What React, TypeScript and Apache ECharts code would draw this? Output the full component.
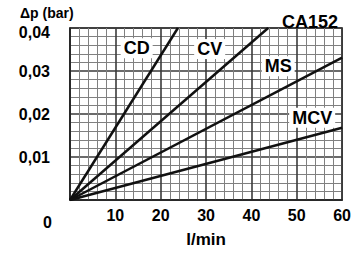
import React, { useEffect, useRef } from "react";
import * as echarts from "echarts";

const xTicks = [0, 10, 20, 30, 40, 50, 60];
const yTicks = [0, 0.01, 0.02, 0.03, 0.04];
const seriesNames = ["CD", "CV", "MS", "MCV"];
const cdLine = [[0, 0], [23.8, 0.04]];
const cvLine = [[0, 0], [43.7, 0.04]];
const msLine = [[0, 0], [60, 0.0331]];
const mcvLine = [[0, 0], [60, 0.0168]];
const labelPoints = [
  [14.7, 0.0353, "CD"],
  [30.8, 0.0351, "CV"],
  [45.9, 0.0311, "MS"],
  [53.4, 0.0191, "MCV"],
];
const title = "CA152";
const xName = "l/min";
const yName = "Δp (bar)";

const FONT = "'Liberation Sans', Arial, sans-serif";

export default function App() {
  const ref = useRef<HTMLDivElement>(null);
  useEffect(() => {
    document.body.style.margin = "0";
    const chart = echarts.init(ref.current!, null, { renderer: "svg" });
    const lines = [cdLine, cvLine, msLine, mcvLine];
    chart.setOption({
      animation: false,
      backgroundColor: "#fff",
      title: {
        text: title,
        right: 11,
        top: 8,
        textStyle: { fontFamily: FONT, fontWeight: "bold", fontSize: 18, color: "#000" },
      },
      grid: {
        left: 70,
        top: 28,
        right: 11,
        bottom: 45,
        show: true,
        borderColor: "#222",
        borderWidth: 1.5,
        backgroundColor: "transparent",
      },
      xAxis: {
        type: "value",
        min: xTicks[0],
        max: xTicks[xTicks.length - 1],
        interval: 10,
        name: xName,
        nameLocation: "middle",
        nameGap: 31,
        nameTextStyle: { fontFamily: FONT, fontWeight: "bold", fontSize: 17, color: "#000" },
        axisLine: { show: true, lineStyle: { color: "#222", width: 1.5 } },
        axisTick: { show: false },
        axisLabel: {
          margin: 7,
          fontFamily: FONT,
          fontWeight: "bold",
          fontSize: 16,
          color: "#000",
          formatter: (v: number) => (v === 0 ? "" : String(v)),
        },
        splitLine: { show: true, lineStyle: { color: "#3a3a3a", width: 1.6 } },
        minorTick: { show: false, splitNumber: 5 },
        minorSplitLine: { show: true, lineStyle: { color: "#808080", width: 1 } },
      },
      yAxis: {
        type: "value",
        min: yTicks[0],
        max: yTicks[yTicks.length - 1],
        interval: 0.01,
        axisLine: { show: true, lineStyle: { color: "#222", width: 1.5 } },
        axisTick: { show: false },
        axisLabel: {
          margin: 20,
          fontFamily: FONT,
          fontWeight: "bold",
          fontSize: 16,
          color: "#000",
          formatter: (v: number) => {
            if (v === 0) return "";
            const s = v.toFixed(2).replace(".", ",");
            return v >= 0.04 ? "{top|" + s + "}" : s;
          },
          rich: {
            top: {
              fontFamily: FONT,
              fontWeight: "bold",
              fontSize: 16,
              color: "#000",
              padding: [8, 0, 0, 0],
            },
          },
        },
        splitLine: { show: true, lineStyle: { color: "#3a3a3a", width: 1.6 } },
        minorTick: { show: false, splitNumber: 5 },
        minorSplitLine: { show: true, lineStyle: { color: "#808080", width: 1 } },
      },
      graphic: [
        {
          type: "text",
          left: 20,
          top: 6,
          style: { text: yName, fontFamily: FONT, fontWeight: "bold", fontSize: 14, fill: "#000" },
        },
        {
          type: "text",
          left: 43,
          top: 214,
          style: { text: "0", fontFamily: FONT, fontWeight: "bold", fontSize: 16, fill: "#000" },
        },
      ],
      series: [
        ...lines.map((d, i) => ({
          type: "line",
          name: seriesNames[i],
          data: d,
          symbol: "none",
          lineStyle: { color: "#111", width: 2.5 },
          z: 3,
        })),
        {
          type: "scatter",
          data: labelPoints,
          symbolSize: 1,
          itemStyle: { color: "#fff", opacity: 1 },
          z: 5,
          label: {
            show: true,
            position: "inside",
            formatter: (p: any) => p.data[2],
            fontFamily: FONT,
            fontWeight: "bold",
            fontSize: 18,
            color: "#000",
            textBorderWidth: 0,
            backgroundColor: "#fff",
            padding: [1, 3],
          },
        },
      ],
    });
    return () => chart.dispose();
  }, []);
  return <div ref={ref} style={{ width: 354, height: 253 }} />;
}
